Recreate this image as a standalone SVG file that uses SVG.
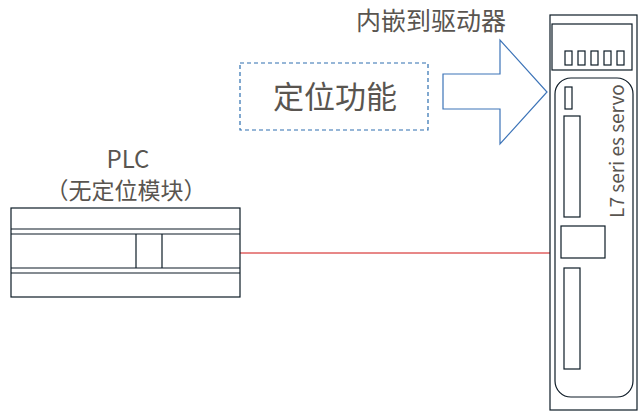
<svg xmlns="http://www.w3.org/2000/svg" width="642" height="419" viewBox="0 0 642 419">
<style>
.k{fill:none;stroke:#0d1b26;stroke-width:1.2}
.t{font-family:"Noto Sans CJK SC","Noto Sans",sans-serif;fill:#595550}
</style>
<rect width="642" height="419" fill="#fff"/>
<g id="connectors">
<line x1="240" y1="253" x2="550" y2="253" stroke="#d01010" stroke-width="1"/>
<polygon points="443,74 500,74 500,40 547,92 500,144 500,109 443,109" fill="#fff" stroke="#3d74b8" stroke-width="1.2"/>
</g>
<g id="servo">
<rect class="k" x="550" y="15" width="87" height="395"/>
<rect class="k" x="552" y="24" width="80" height="46"/>
<rect class="k" x="565" y="51" width="7" height="14"/>
<rect class="k" x="578" y="51" width="7" height="14"/>
<rect class="k" x="591" y="51" width="7" height="14"/>
<rect class="k" x="604" y="51" width="7" height="14"/>
<rect class="k" x="617" y="51" width="7" height="14"/>
<rect class="k" x="555" y="78" width="78" height="319" rx="16"/>
<rect class="k" x="565" y="87" width="7" height="22"/>
<rect class="k" x="564" y="116" width="16" height="101"/>
<rect class="k" x="561" y="226" width="44" height="32"/>
<rect class="k" x="564" y="268" width="16" height="101"/>
<text class="t" transform="translate(624,151) rotate(-90)" text-anchor="middle" font-size="19">L7 seri es  servo</text>
</g>
<g id="plc">
<rect class="k" x="11" y="208" width="229" height="89"/>
<line class="k" x1="11" y1="229" x2="240" y2="229"/>
<line class="k" x1="11" y1="234" x2="240" y2="234"/>
<line class="k" x1="11" y1="268" x2="240" y2="268"/>
<line class="k" x1="11" y1="273" x2="240" y2="273"/>
<line class="k" x1="136" y1="234" x2="136" y2="268"/>
<line class="k" x1="162" y1="234" x2="162" y2="268"/>
<text class="t" x="128" y="168" text-anchor="middle" font-size="24">PLC</text>
<text class="t" x="126" y="199" text-anchor="middle" font-size="23">（无定位模块）</text>
</g>
<g id="func">
<rect x="240" y="63" width="188" height="67" fill="none" stroke="#2e6fb0" stroke-width="1.2" stroke-dasharray="4,3"/>
<text class="t" x="335" y="108" text-anchor="middle" font-size="31">定位功能</text>
</g>
<g id="label">
<text class="t" x="431" y="30" text-anchor="middle" font-size="25">内嵌到驱动器</text>
</g>
</svg>
